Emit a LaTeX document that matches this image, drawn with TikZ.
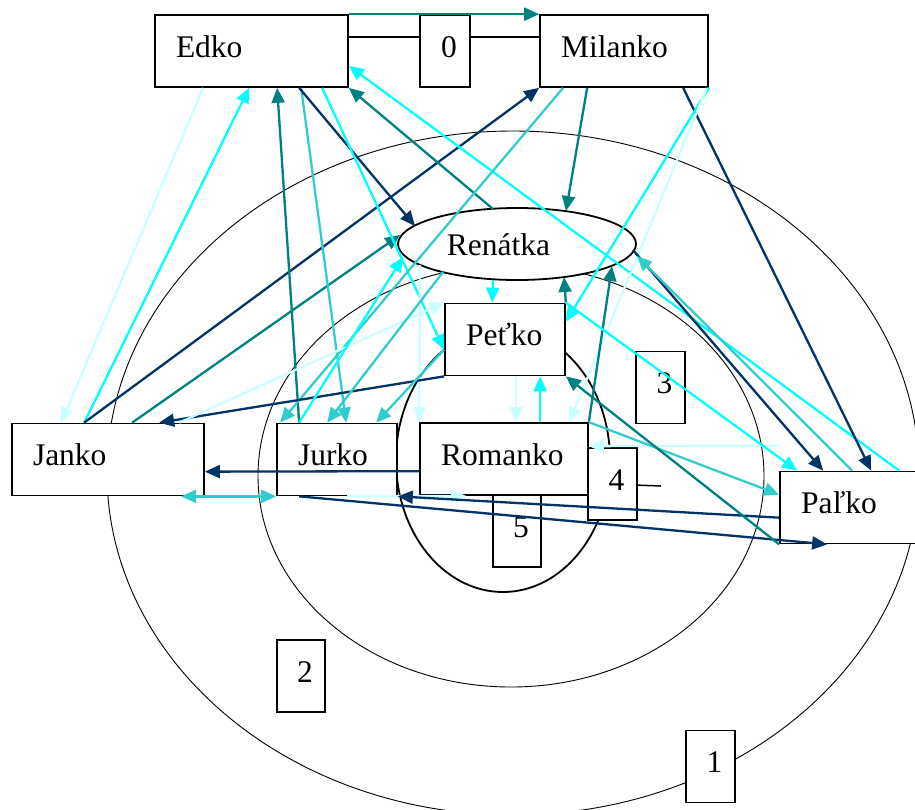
\documentclass[tikz,border=0pt]{standalone}
\usepackage{fontspec}
\setmainfont{Liberation Serif}
\usetikzlibrary{arrows.meta,calc,shapes.geometric}
\definecolor{cteal}{RGB}{0,128,128}
\definecolor{cnavy}{RGB}{0,51,102}
\definecolor{ccyan}{RGB}{0,255,255}
\definecolor{cpale}{RGB}{204,255,255}
\definecolor{cturq}{RGB}{51,204,204}
\begin{document}
\begin{tikzpicture}[x=1pt,y=-1pt,
  txt/.style={font=\fontsize{31.5}{36}\selectfont},
  namebox/.style={txt, draw=black, line width=1.7pt, fill=white, rectangle,
    inner xsep=21pt, inner ysep=0pt, minimum height=72pt, align=left,
    text height=22pt, text depth=10pt, text width=#1},
  numbox/.style={txt, draw=black, line width=1.7pt, fill=white, rectangle,
    inner sep=0pt, minimum width=49pt, minimum height=72pt,
    text height=22pt, text depth=10pt},
  ring/.style={draw=black, line width=0.9pt},
  plain/.style={draw=black, line width=1.5pt},
  tip/.tip={Triangle[length=15pt,width=13pt]},
  link/.style={line width=2.3pt, -tip},
]
\useasboundingbox (0,0) rectangle (915,809);
\clip (0,0) rectangle (915,809);

% concentric rings
\draw[ring] (513,473) ellipse [x radius=406pt, y radius=342pt];
\draw[ring] (511,476) ellipse [x radius=253pt, y radius=211pt];
\draw[black, line width=1.8pt] (503,460) ellipse [x radius=107pt, y radius=132pt];

% people
\node[namebox=151pt] (Edko) at (251.5,51) {Edko};
\node[namebox=126pt] (Milanko) at (624,51) {Milanko};
\node[txt, draw=black, line width=1.8pt, fill=white, ellipse, inner sep=0pt,
  minimum width=238pt, minimum height=72pt, text height=22pt, text depth=0pt]
  (Ren) at (517,244) {Renátka\hspace*{37pt}};
\node[namebox=78pt] (Peko) at (505,339.5) {Peťko};
\node[namebox=150pt] (Janko) at (108,459.5) {Janko};
\node[namebox=78pt] (Jurko) at (337,459.5) {Jurko};
\node[namebox=126pt] (Romanko) at (504,459) {Romanko};
\node[namebox=126pt] (Palko) at (864,507.5) {Paľko};

% ring numbers
\node[numbox, minimum width=50pt] (Zero) at (445,51) {\hspace*{8pt}0};
\node[numbox] (Three) at (660.5,387.5) {\hspace*{8pt}3};
\node[numbox] (Four) at (612.5,484) {\hspace*{8pt}4};
\node[numbox, minimum width=48pt] (Five) at (517,531) {\hspace*{8pt}5};
\node[numbox, minimum width=48pt] (Two) at (301,676) {\hspace*{8pt}2};
\node[numbox] (One) at (710.5,766.5) {\hspace*{8pt}1};

% plain links
\draw[plain] ($(Edko.north east)+(0,23)$) -- ($(Zero.north west)+(0,23)$);
\draw[plain] ($(Zero.north east)+(0,23)$) -- ($(Milanko.north west)+(0,23)$);
\coordinate (tickend) at (661,486);
\draw[plain] ($(Four.north east)+(0,38)$) -- (tickend);

% relations
\draw[link, cteal] (Edko.north east) -- (Milanko.north west);
\draw[link, cpale] ($(Edko.south west)+(49,0)$) -- ($(Janko.north west)+(50,0)$);
\draw[link, ccyan] ($(Janko.north west)+(73,0)$) -- ($(Edko.south west)+(95,0)$);
\draw[link, cnavy] ($(Janko.north west)+(73,0)$) -- (Milanko.south west);
\draw[link, cteal] ($(Janko.north west)+(121,0)$) -- ($(Ren.center)+(-117,-9)$);
\draw[link, cteal] ($(Jurko.north west)+(23,0)$) -- ($(Edko.south west)+(123,0)$);
\draw[link, cturq] ($(Edko.south west)+(147,0)$) -- ($(Jurko.north west)+(70,0)$);
\draw[link, cnavy] ($(Edko.south west)+(145,0)$) -- ($(Ren.center)+(-102,-18)$);
\draw[link, ccyan] ($(Edko.south west)+(168,0)$) -- ($(Peko.north west)+(0,47)$);
\draw[link, cteal] ($(Ren.center)+(-24,-35)$) -- (Edko.south east);
\draw[link, ccyan] ($(Palko.north west)+(120,0)$) -- ($(Edko.south east)+(0,-22)$);
\draw[link, cnavy] ($(Milanko.south west)+(144,0)$) -- ($(Palko.north west)+(92,0)$);
\draw[link, cteal] ($(Milanko.south west)+(48,0)$) -- ($(Ren.center)+(49,-33)$);
\draw[link, cturq] ($(Milanko.south west)+(24,0)$) -- ($(Jurko.north west)+(4,0)$);
\draw[link, ccyan] (Milanko.south east) -- ($(Peko.north east)+(0,19)$);
\draw[link, cpale] ($(Milanko.south east)+(-2,0)$) -- ($(Romanko.north west)+(150,0)$);
\draw[link, cnavy] ($(Ren.center)+(116,6)$) -- ($(Palko.north west)+(44,0)$);
\draw[link, cturq] ($(Palko.north west)+(73,0)$) -- ($(Ren.center)+(120,12)$);
\draw[link, ccyan] ($(Ren.center)+(-24,36)$) -- ($(Peko.north west)+(48,0)$);
\draw[link, cteal] (Peko.north east) -- ($(Ren.center)+(47,33)$);
\draw[link, cteal] (Romanko.north east) -- ($(Ren.center)+(95,22)$);
\draw[link, cpale] ($(Ren.center)+(-97,21)$) -- (Romanko.north west);
\draw[link, cpale] ($(Peko.south west)+(72,0)$) -- ($(Romanko.north west)+(97,0)$);
\draw[link, ccyan] ($(Romanko.north west)+(121,0)$) -- ($(Peko.south west)+(96,0)$);
\draw[link, cnavy] (Peko.south west) -- ($(Janko.north west)+(148,0)$);
\draw[link, cpale] ($(Janko.north west)+(168,0)$) -- (Peko.north west);
\draw[link, cturq] ($(Peko.north west)+(0,47)$) -- ($(Jurko.north west)+(100,0)$);
\draw[link, cturq] ($(Ren.center)+(-74,28)$) -- ($(Jurko.north west)+(51,0)$);
\draw[link, ccyan] ($(Jurko.north west)+(23,0)$) -- ($(Ren.center)+(-114,13)$);
\draw[link, cnavy] ($(Romanko.north west)+(0,49)$) -- ($(Janko.north east)+(0,49)$);
\draw[link, cturq, tip-tip] ($(Janko.south west)+(170,0)$) -- (Jurko.south west);
\draw[link, cpale] ($(Jurko.south west)+(71,0)$) -- ($(Romanko.south west)+(47,0)$);
\draw[link, cnavy] ($(Palko.north west)+(0,47)$) -- (Jurko.south east);
\draw[link, cnavy] ($(Jurko.south west)+(23,0)$) -- ($(Palko.south west)+(48,0)$);
\draw[link, cpale] ($(Palko.north west)+(0,-25)$) -- ($(Romanko.north east)+(0,24)$);
\draw[link, cturq] (Romanko.north east) -- ($(Palko.north west)+(0,24)$);
\draw[link, cteal] (Palko.south west) -- (Peko.south east);
\draw[link, ccyan] (Peko.north east) -- ($(Palko.north west)+(18,0)$);
\end{tikzpicture}
\end{document}
